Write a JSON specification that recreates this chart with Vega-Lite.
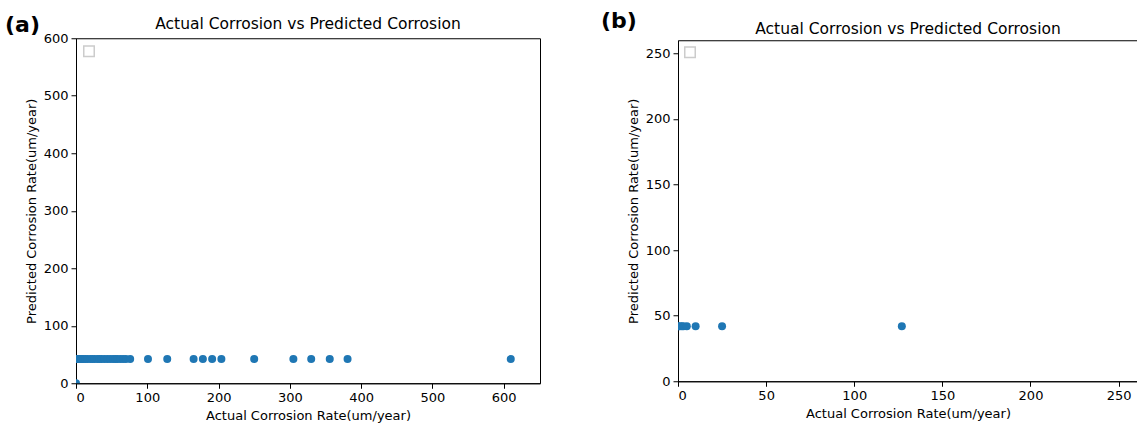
{
  "$schema": "https://vega.github.io/schema/vega-lite/v6.json",
  "background": "white",
  "padding": {"left": 4, "top": 9, "right": 0, "bottom": 0},
  "spacing": 59,
  "center": true,
  "resolve": {"scale": {"shape": "independent"}, "legend": {"shape": "independent"}},
  "config": {
    "font": "DejaVu Sans",
    "view": {"stroke": "black", "strokeWidth": 1},
    "axis": {
      "grid": false, "labelFont": "DejaVu Sans", "titleFont": "DejaVu Sans",
      "labelFontSize": 13, "titleFontSize": 13, "titleFontWeight": "normal",
      "labelColor": "black", "titleColor": "black", "tickColor": "black", "domainColor": "black",
      "tickSize": 5, "labelPadding": 3, "titlePadding": 5
    },
    "title": {"font": "DejaVu Sans", "color": "black"}
  },
  "hconcat": [
    {
      "width": 464, "height": 345,
      "title": {"text": "Actual Corrosion vs Predicted Corrosion", "fontSize": 15.5, "fontWeight": "normal", "frame": "group", "anchor": "middle", "offset": -19},
      "layer": [
        {
          "data": {"values": [
            {"actual": 0, "predicted": 0},
            {"actual": 0.5, "predicted": 42}, {"actual": 2, "predicted": 42}, {"actual": 4, "predicted": 42},
            {"actual": 6, "predicted": 42}, {"actual": 8, "predicted": 42}, {"actual": 10, "predicted": 42},
            {"actual": 13, "predicted": 42}, {"actual": 16, "predicted": 42}, {"actual": 20, "predicted": 42},
            {"actual": 23, "predicted": 42}, {"actual": 26, "predicted": 42}, {"actual": 30, "predicted": 42},
            {"actual": 33, "predicted": 42}, {"actual": 36, "predicted": 42}, {"actual": 40, "predicted": 42},
            {"actual": 44, "predicted": 42}, {"actual": 48, "predicted": 42}, {"actual": 52, "predicted": 42},
            {"actual": 55, "predicted": 42}, {"actual": 58, "predicted": 42}, {"actual": 62, "predicted": 42},
            {"actual": 66, "predicted": 42}, {"actual": 70, "predicted": 42}, {"actual": 76, "predicted": 42},
            {"actual": 101, "predicted": 42}, {"actual": 128, "predicted": 42}, {"actual": 165, "predicted": 42},
            {"actual": 178, "predicted": 42}, {"actual": 191, "predicted": 42}, {"actual": 204, "predicted": 42},
            {"actual": 250, "predicted": 42}, {"actual": 305, "predicted": 42}, {"actual": 330, "predicted": 42},
            {"actual": 356, "predicted": 42}, {"actual": 381, "predicted": 42}, {"actual": 610, "predicted": 42}
          ]},
          "mark": {"type": "circle", "size": 64, "color": "#1f77b4", "opacity": 1, "clip": true},
          "encoding": {
            "x": {"field": "actual", "type": "quantitative", "scale": {"domain": [0, 651], "nice": false, "zero": false},
                  "axis": {"title": "Actual Corrosion Rate(um/year)", "values": [0, 100, 200, 300, 400, 500, 600]}},
            "y": {"field": "predicted", "type": "quantitative", "scale": {"domain": [0, 600], "nice": false, "zero": false},
                  "axis": {"title": "Predicted Corrosion Rate(um/year)", "values": [0, 100, 200, 300, 400, 500, 600]}}
          }
        },
        {
          "data": {"values": []},
          "mark": {"type": "point", "filled": false, "color": "#cccccc", "strokeWidth": 1, "opacity": 1},
          "encoding": {
            "x": {"field": "actual", "type": "quantitative"},
            "y": {"field": "predicted", "type": "quantitative"},
            "shape": {"datum": "s", "scale": {"range": ["square"]},
                      "legend": {"title": null, "orient": "top-left", "offset": 7, "padding": 0, "symbolSize": 110, "symbolType": "square", "labelExpr": "''", "labelFontSize": 0, "labelOffset": 0, "rowPadding": 0}}
          }
        },
        {
          "data": {"values": [{}]},
          "mark": {"type": "text", "text": "(a)", "fontSize": 22, "fontWeight": "bold", "align": "left", "baseline": "middle", "color": "black"},
          "encoding": {"x": {"datum": -99.6}, "y": {"datum": 623.5}}
        }
      ]
    },
    {
      "width": 460, "height": 341,
      "title": {"text": "Actual Corrosion vs Predicted Corrosion", "fontSize": 15.5, "fontWeight": "normal", "frame": "group", "anchor": "middle", "offset": -28},
      "layer": [
        {
          "data": {"values": [
            {"actual": 0, "predicted": 42}, {"actual": 1, "predicted": 42}, {"actual": 2, "predicted": 42},
            {"actual": 3, "predicted": 42}, {"actual": 5, "predicted": 42}, {"actual": 10, "predicted": 42},
            {"actual": 25, "predicted": 42}, {"actual": 127, "predicted": 42}
          ]},
          "mark": {"type": "circle", "size": 64, "color": "#1f77b4", "opacity": 1, "clip": true},
          "encoding": {
            "x": {"field": "actual", "type": "quantitative", "scale": {"domain": [0, 261], "nice": false, "zero": false},
                  "axis": {"title": "Actual Corrosion Rate(um/year)", "values": [0, 50, 100, 150, 200, 250]}},
            "y": {"field": "predicted", "type": "quantitative", "scale": {"domain": [0, 260], "nice": false, "zero": false},
                  "axis": {"title": "Predicted Corrosion Rate(um/year)", "values": [0, 50, 100, 150, 200, 250]}}
          }
        },
        {
          "data": {"values": []},
          "mark": {"type": "point", "filled": false, "color": "#cccccc", "strokeWidth": 1, "opacity": 1},
          "encoding": {
            "x": {"field": "actual", "type": "quantitative"},
            "y": {"field": "predicted", "type": "quantitative"},
            "shape": {"datum": "s", "scale": {"range": ["square"]},
                      "legend": {"title": null, "orient": "top-left", "offset": 6, "padding": 0, "symbolSize": 110, "symbolType": "square", "labelExpr": "''", "labelFontSize": 0, "labelOffset": 0, "rowPadding": 0}}
          }
        },
        {
          "data": {"values": [{}]},
          "mark": {"type": "text", "text": "(b)", "fontSize": 22, "fontWeight": "bold", "align": "left", "baseline": "middle", "color": "black"},
          "encoding": {"x": {"datum": -43.7}, "y": {"datum": 275}}
        }
      ]
    }
  ]
}
